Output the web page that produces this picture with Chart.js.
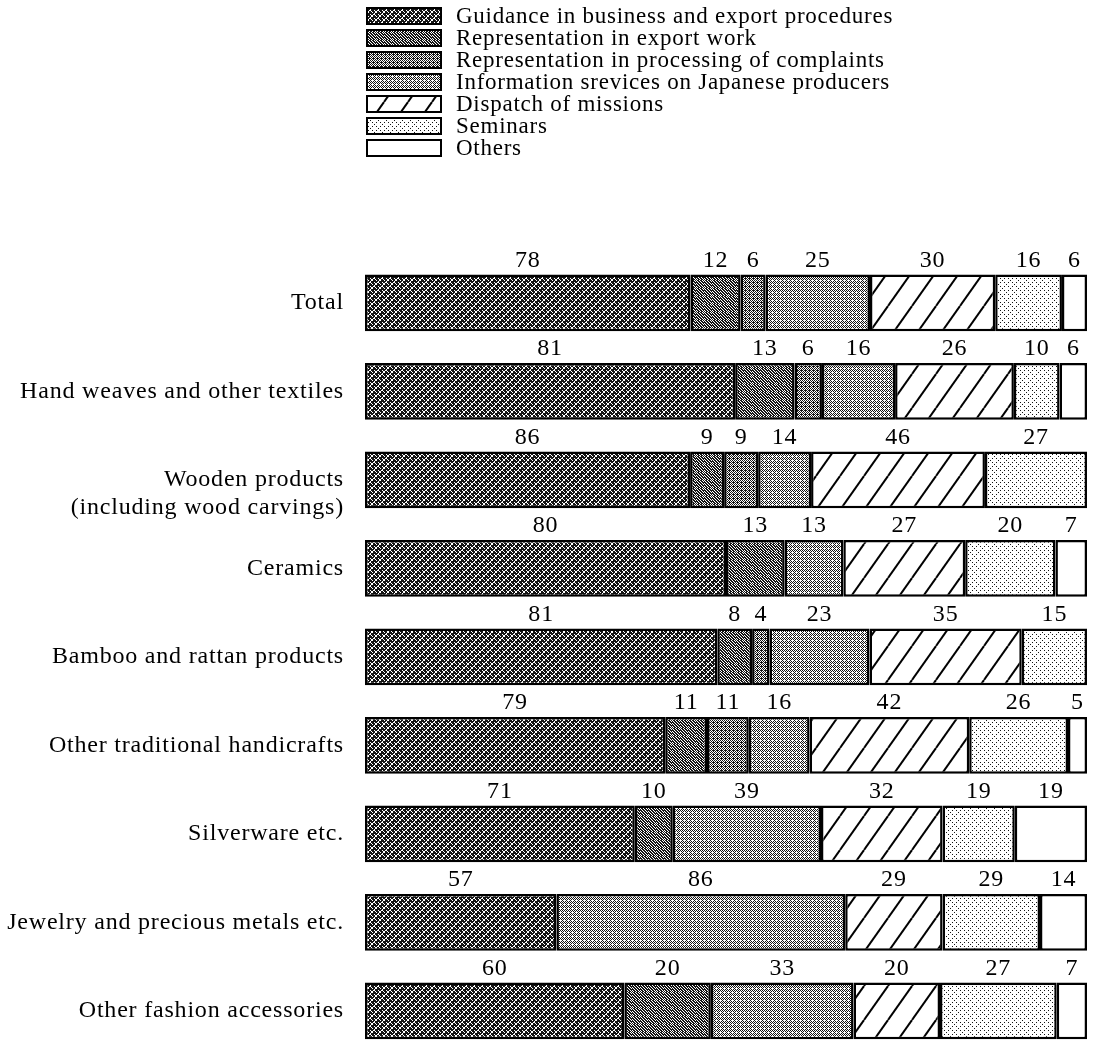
<!DOCTYPE html>
<html>
<head>
<meta charset="utf-8">
<script src="https://cdn.jsdelivr.net/npm/chart.js@4"></script>
<style>
html, body { margin: 0; padding: 0; background: #fff; overflow: hidden; }
#wrap { position: relative; width: 1094px; height: 1090px; }
</style>
</head>
<body>
<div id="wrap"><canvas id="chart"></canvas></div>
<script>
// DATA (number of cases)
const categories = [
  'Total',
  'Hand weaves and other textiles',
  ['', 'Wooden products', '(including wood carvings)'],
  'Ceramics',
  'Bamboo and rattan products',
  'Other traditional handicrafts',
  'Silverware etc.',
  'Jewelry and precious metals etc.',
  'Other fashion accessories'
];
const seriesNames = [
  'Guidance in business and export procedures',
  'Representation in export work',
  'Representation in processing of complaints',
  'Information srevices on Japanese producers',
  'Dispatch of missions',
  'Seminars',
  'Others'
];
const guidance     = [78, 81, 86, 80, 81, 79, 71, 57, 60];
const exportWork   = [12, 13,  9, 13,  8, 11, 10,  0, 20];
const complaints   = [ 6,  6,  9,  0,  4, 11,  0,  0,  0];
const infoServices = [25, 16, 14, 13, 23, 16, 39, 86, 33];
const missions     = [30, 26, 46, 27, 35, 42, 32, 29, 20];
const seminars     = [16, 10, 27, 20, 15, 26, 19, 29, 27];
const others       = [ 6,  6,  0,  7,  0,  5, 19, 14,  7];

const seriesCounts = [guidance, exportWork, complaints, infoServices, missions, seminars, others];

// each bar is shown as 100 %
const rowTotals = categories.map((c, j) => seriesCounts.reduce((s, arr) => s + arr[j], 0));

const FONT_FAMILY = '"Liberation Serif", "Times New Roman", serif';
const FONT_SIZE = 24;

const canvas = document.getElementById('chart');
const ctx = canvas.getContext('2d');

// PATTERNS

function pixelPattern(w, h, isInk) {
  const c = document.createElement('canvas');
  c.width = w; c.height = h;
  const g = c.getContext('2d');
  const img = g.createImageData(w, h);
  for (let y = 0; y < h; y++) {
    for (let x = 0; x < w; x++) {
      const v = isInk(x, y) ? 20 : 255;
      const k = (y * w + x) * 4;
      img.data[k] = img.data[k + 1] = img.data[k + 2] = v;
      img.data[k + 3] = 255;
    }
  }
  g.putImageData(img, 0, 0);
  return ctx.createPattern(c, 'repeat');
}

function hatchPattern() {
  const w = 24, h = 34;
  const c = document.createElement('canvas');
  c.width = w; c.height = h;
  const g = c.getContext('2d');
  g.fillStyle = '#fff';
  g.fillRect(0, 0, w, h);
  g.strokeStyle = '#000';
  g.lineWidth = 2;
  [-w, 0, w].forEach(dx => {
    g.beginPath();
    g.moveTo(dx, h);
    g.lineTo(dx + w, 0);
    g.stroke();
  });
  return ctx.createPattern(c, 'repeat');
}

const mod = (a, n) => ((a % n) + n) % n;

const fills = [
  pixelPattern(8, 8, (x, y) => mod(x - y, 4) !== 0 || (mod(x, 4) === 1 && mod(y, 4) === 1) ? !(mod(x + y, 8) === 3) : false),
  pixelPattern(8, 8, (x, y) => mod(x - y, 3) !== 0),
  pixelPattern(8, 8, (x, y) => mod(x + y, 2) === 0 || (mod(x, 4) === 1 && mod(y, 4) === 2)),
  pixelPattern(8, 8, (x, y) => mod(x + y, 2) === 0 && !(mod(x, 4) === 0 && mod(y, 4) === 0)),
  hatchPattern(),
  pixelPattern(8, 8, (x, y) => (x % 4 === 0 && y % 4 === 2) || (x % 4 === 2 && y % 4 === 0 && (x + y) % 8 === 2)),
  '#ffffff'
];

const datasets = seriesCounts.map((arr, i) => ({
  label: seriesNames[i],
  data: arr.map((v, j) => v ? v / rowTotals[j] * 100 : null),
  backgroundColor: fills[i],
  borderColor: '#000',
  borderWidth: 2.5,
  borderSkipped: false,
  barPercentage: 0.64,
  categoryPercentage: 1
}));

// PLUGINS

const letterSpacing = {
  id: 'letterSpacing',
  beforeDraw(chart) {
    chart.ctx.letterSpacing = '0.8px';
  }
};

const valueLabels = {
  id: 'valueLabels',
  afterDatasetsDraw(chart) {
    const c = chart.ctx;
    c.save();
    c.font = `${FONT_SIZE}px ${FONT_FAMILY}`;
    c.letterSpacing = '0.8px';
    c.fillStyle = '#000';
    c.textAlign = 'center';
    c.textBaseline = 'middle';
    seriesCounts.forEach((arr, i) => {
      chart.getDatasetMeta(i).data.forEach((bar, j) => {
        if (!arr[j]) return;
        const p = bar.getProps(['x', 'y', 'base', 'height'], true);
        c.fillText(String(arr[j]), (p.x + p.base) / 2, p.y - p.height / 2 - 14);
      });
    });
    c.restore();
  }
};

const sideLegend = {
  id: 'sideLegend',
  afterDraw(chart) {
    const c = chart.ctx;
    c.save();
    c.font = `23px ${FONT_FAMILY}`;
    c.letterSpacing = '0.75px';
    c.textBaseline = 'middle';
    c.textAlign = 'left';
    chart.data.datasets.forEach((ds, i) => {
      const top = 8 + i * 22;
      c.fillStyle = ds.backgroundColor;
      c.fillRect(367, top, 74, 16);
      c.strokeStyle = '#000';
      c.lineWidth = 2;
      c.strokeRect(367, top, 74, 16);
      c.fillStyle = '#000';
      c.fillText(ds.label, 456, top + 9);
    });
    c.restore();
  }
};

new Chart(ctx, {
  type: 'bar',
  data: {
    labels: categories,
    datasets: datasets
  },
  options: {
    indexAxis: 'y',
    responsive: true,
    maintainAspectRatio: false,
    animation: false,
    layout: {
      padding: { top: 258.6, bottom: 14.2, left: 0, right: 7 }
    },
    plugins: {
      legend: { display: false },
      tooltip: { enabled: false }
    },
    scales: {
      x: {
        stacked: true,
        min: 0,
        max: 100,
        display: false
      },
      y: {
        stacked: true,
        grid: { display: false, drawTicks: false },
        border: { display: false },
        ticks: {
          color: '#000',
          padding: 21,
          font: { family: FONT_FAMILY, size: FONT_SIZE, lineHeight: 1.15 }
        },
        afterFit(scale) {
          scale.width = 365;
        }
      }
    }
  },
  plugins: [letterSpacing, valueLabels, sideLegend]
});
</script>
</body>
</html>
